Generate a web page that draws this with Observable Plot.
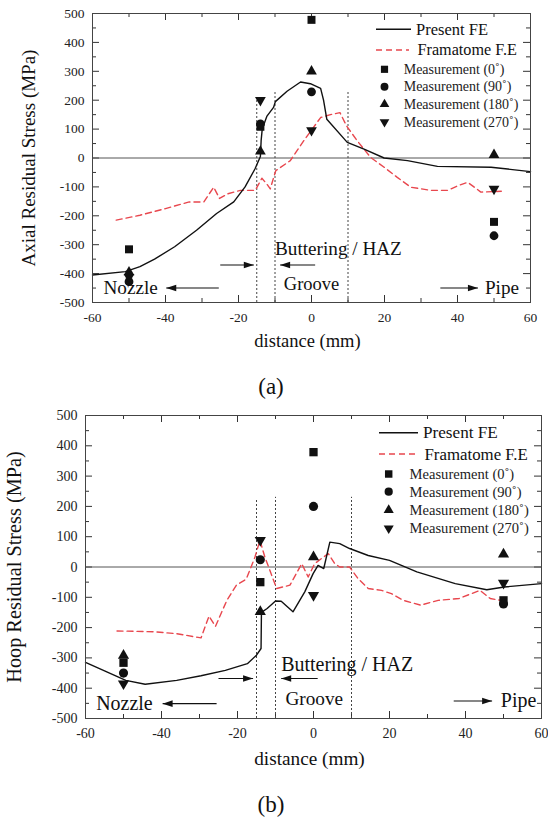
<!DOCTYPE html>
<html><head><meta charset="utf-8">
<script src="https://cdn.jsdelivr.net/npm/d3@7"></script>
<script src="https://cdn.jsdelivr.net/npm/@observablehq/plot@0.6"></script>
<style>
body{margin:0;background:#fff;width:548px;height:819px;position:relative;overflow:hidden;font-family:"Liberation Serif","Times New Roman",serif;}
.panel{position:absolute;left:0;}
.panel svg text{font-family:"Liberation Serif","Times New Roman",serif;}
.cap{position:absolute;font-size:23px;color:#111;transform:translate(-50%,-50%);white-space:nowrap;}
</style></head><body>
<div id="a" class="panel" style="top:0px"></div>
<div class="cap" style="left:271px;top:387px">(a)</div>
<div id="b" class="panel" style="top:400px"></div>
<div class="cap" style="left:271px;top:805px">(b)</div>
<script>
// ---- shared tick labels / categories ----
const xTicks = [-60, -40, -20, 0, 20, 40, 60];
const xMinorTicks = [-50, -30, -10, 10, 30, 50];
const yTicks = [-500, -400, -300, -200, -100, 0, 100, 200, 300, 400, 500];
const yMinorTicks = [-450, -350, -250, -150, -50, 50, 150, 250, 350, 450];
const seriesNames = ["Present FE", "Framatome F.E", "Measurement (0˚)", "Measurement (90˚)", "Measurement (180˚)", "Measurement (270˚)"];
const measX = [-50, -14, 0, 50];
const zoneX = [-15, -10, 10];

// ---- panel (a): axial ----
const aPresentX = [-60, -51, -47, -43, -37.5, -31.5, -26, -21.3, -18.2, -15.5, -14, -13.8, -13.5, -12.2, -10.4, -9.9, -6.7, -3, -0.3, 2.5, 3.3, 4.2, 9.8, 14.4, 19.9, 26.3, 34.5, 49.2, 60];
const aPresentY = [-405, -393, -376, -350, -307, -250, -192, -152, -100, -38, 5, 60, 100, 145, 175, 195, 231, 263, 257, 241, 200, 134, 54, 31, 0, -9, -29, -32, -47];
const aFramX = [-53.5, -47, -40, -33.5, -29.5, -26.8, -25.2, -23, -19.5, -15.4, -13.6, -12.3, -11.3, -9.8, -5.8, -2.1, 2.5, 5.2, 7.8, 9.6, 12.5, 16.2, 19.9, 23.5, 27.2, 32.7, 37.3, 40.3, 42.8, 46.4, 52];
const aFramY = [-215, -198, -175, -152, -152, -101, -140, -124, -112, -112, -70, -89, -107, -44, -9, 60, 140, 150, 157, 111, 60, 2, -32, -67, -101, -112, -112, -95, -84, -118, -115];
const aMeas0 = [-316, 108, 478, -221];
const aMeas90 = [-428, 118, 229, -269];
const aMeas180 = [-395, 23, 300, 11];
const aMeas270 = [-412, 200, 96, -107];
const aZoneTop = [200, 230, 230];
const aLabels = ["Buttering / HAZ", "Groove", "Nozzle", "Pipe"];
const aLabelX = [-10, 0, -57, 47.5];
const aLabelY = [-315, -436, -450, -450];
const aArrowX1 = [-25, 1, -25.4, 35.3];
const aArrowX2 = [-15.8, -8.6, -39.8, 45.6];
const aArrowY = [-370, -370, -450, -450];

// ---- panel (b): hoop ----
const bPresentX = [-60, -54.4, -49.4, -44.3, -36, -29.6, -23.2, -17.4, -15, -13.8, -13.7, -12.2, -10, -8.5, -5.4, -2.3, -0.1, 1.2, 2.7, 4.3, 6.9, 9.5, 14.4, 20, 27.2, 37.3, 45.6, 50.2, 60];
const bPresentY = [-315, -346, -374, -387, -374, -359, -341, -319, -291, -269, -150, -137, -112, -113, -148, -82, -22, 5, -5, 82, 77, 61, 38, 22, -16, -55, -75, -66, -55];
const bFramX = [-51.7, -41.6, -36, -29.6, -27.5, -25.8, -22.8, -20.3, -17.7, -15.4, -14.1, -12.8, -9.7, -6.2, -3.1, -1.4, 0.3, 2.1, 3.9, 5.6, 6.9, 9.5, 11.7, 14.4, 17.9, 20.5, 23.6, 28.2, 32.8, 38.3, 43.8, 46.5, 50.2];
const bFramY = [-211, -214, -220, -234, -162, -196, -110, -60, -40, 33, 88, 33, -71, -60, 11, -33, 11, 28, 44, 11, 0, 0, -38, -71, -77, -88, -110, -126, -110, -104, -77, -104, -112];
const bMeas0 = [-316, -50, 379, -110];
const bMeas90 = [-350, 24, 200, -122];
const bMeas180 = [-292, -148, 33, 42];
const bMeas270 = [-385, 88, -93, -53];
const bZoneTop = [220, 230, 230];
const bLabels = ["Buttering / HAZ", "Groove", "Nozzle", "Pipe"];
const bLabelX = [-8.5, 0.2, -57.2, 49.3];
const bLabelY = [-321, -434, -451, -442];
const bArrowX1 = [-25, 1.1, -25.5, 36.9];
const bArrowX2 = [-15.9, -8.5, -39.7, 47];
const bArrowY = [-368, -368, -451, -442];

// ---- symbols ----
const triDown = {draw(ctx, size) { const y = Math.sqrt(size / (Math.sqrt(3) * 3)); ctx.moveTo(0, 2 * y); ctx.lineTo(Math.sqrt(3) * y, -y); ctx.lineTo(-Math.sqrt(3) * y, -y); ctx.closePath(); }};
const headRight = {draw(ctx) { ctx.moveTo(0, 0); ctx.lineTo(-10, -3.3); ctx.lineTo(-10, 3.3); ctx.closePath(); }};
const headLeft = {draw(ctx) { ctx.moveTo(0, 0); ctx.lineTo(10, -3.3); ctx.lineTo(10, 3.3); ctx.closePath(); }};
const RED = "#e8474e", INK = "#111";
const FONT = "'Liberation Serif', 'Times New Roman', serif";
const measSyms = [
  {sym: d3.symbolSquare, r: 4.5},
  {sym: d3.symbolCircle, r: 4.4},
  {sym: d3.symbolTriangle, r: 4},
  {sym: triDown, r: 4}
];

function makePanel(el, cfg) {
  const W = 548, H = cfg.height;
  const iw = W - cfg.ml - cfg.mr, ih = H - cfg.mt - cfg.mb;
  const k = cfg.scale;
  const pts = (xs, ys) => xs.map((x, i) => ({x, y: ys[i]}));
  const present = pts(cfg.presentX, cfg.presentY);
  const fram = pts(cfg.framX, cfg.framY);
  const zones = zoneX.map((x, i) => ({x, y1: -500, y2: cfg.zoneTop[i]}));
  const labels = cfg.labels.map((t, i) => ({t, x: cfg.labelX[i], y: cfg.labelY[i], anchor: i === 1 ? "middle" : "start"}));
  const arrows = cfg.arrowX1.map((x1, i) => ({x1, x2: cfg.arrowX2[i], y: cfg.arrowY[i]}));
  const measMarks = cfg.meas.map((vals, j) => Plot.dot(pts(measX, vals), {x: "x", y: "y", symbol: measSyms[j].sym, r: measSyms[j].r * k, fill: INK, stroke: "none"}));
  const svg = Plot.plot({
    width: W, height: H,
    marginTop: cfg.mt, marginBottom: cfg.mb, marginLeft: cfg.ml, marginRight: cfg.mr,
    x: {domain: [-60, 60]},
    y: {domain: [-500, 500]},
    style: `font-family: ${FONT}; background: transparent; color: #222; overflow: visible;`,
    marks: [
      // inward ticks on all four sides
      Plot.ruleX(xTicks, {insetTop: ih - 7, stroke: "#333"}),
      Plot.ruleX(xMinorTicks, {insetTop: ih - 4, stroke: "#333"}),
      Plot.ruleX(xTicks, {insetBottom: ih - 7, stroke: "#333"}),
      Plot.ruleX(xMinorTicks, {insetBottom: ih - 4, stroke: "#333"}),
      Plot.ruleY(yTicks, {insetRight: iw - 7, stroke: "#333"}),
      Plot.ruleY(yMinorTicks, {insetRight: iw - 4, stroke: "#333"}),
      Plot.ruleY(yTicks, {insetLeft: iw - 7, stroke: "#333"}),
      Plot.ruleY(yMinorTicks, {insetLeft: iw - 4, stroke: "#333"}),
      Plot.ruleY([0], {stroke: "#555", strokeWidth: 1}),
      Plot.ruleX(zones, {x: "x", y1: "y1", y2: "y2", stroke: "#444", strokeWidth: 1, strokeDasharray: "2,2"}),
      Plot.line(fram, {x: "x", y: "y", stroke: RED, strokeWidth: 1.4, strokeDasharray: "6,4"}),
      Plot.line(present, {x: "x", y: "y", stroke: INK, strokeWidth: 1.4}),
      ...measMarks,
      Plot.link(arrows, {x1: "x1", x2: "x2", y1: "y", y2: "y", stroke: INK, strokeWidth: 1.1}),
      Plot.dot(arrows.filter(a => a.x2 > a.x1), {x: "x2", y: "y", symbol: headRight, fill: INK, stroke: "none"}),
      Plot.dot(arrows.filter(a => a.x2 < a.x1), {x: "x2", y: "y", symbol: headLeft, fill: INK, stroke: "none"}),
      Plot.text(labels.filter(d => d.anchor === "start"), {x: "x", y: "y", text: "t", textAnchor: "start", fontSize: 19.2 * k, fontFamily: FONT, fill: "#111", lineAnchor: "middle"}),
      Plot.text(labels.filter(d => d.anchor === "middle"), {x: "x", y: "y", text: "t", textAnchor: "middle", fontSize: 18.5 * k, fontFamily: FONT, fill: "#111", lineAnchor: "middle"}),
      Plot.axisX({ticks: xTicks, tickSize: 0, tickPadding: 10, tickFormat: d => String(d), fontSize: 13.5 * k, fontFamily: FONT, label: null}),
      Plot.axisY({ticks: yTicks, tickSize: 0, tickPadding: 8, tickFormat: d => String(d), fontSize: 13.5 * k, fontFamily: FONT, label: null}),
      Plot.frame({stroke: "#444"}),
      Plot.text([cfg.yTitle], {frameAnchor: "left", textAnchor: "middle", dx: cfg.yTitleDx, rotate: -90, fontSize: cfg.yTitleSize, fontFamily: FONT, fill: "#111", lineAnchor: "middle"}),
      Plot.text(["distance (mm)"], {frameAnchor: "bottom", textAnchor: "middle", dy: cfg.xTitleDy, dx: -4, fontSize: 18.5 * k, fontFamily: FONT, fill: "#111", lineAnchor: "middle"})
    ]
  });
  // legend
  const L = cfg.legend;
  const g = d3.select(svg).append("g").attr("font-family", FONT).attr("text-anchor", "start").attr("fill", "#111");
  g.append("line").attr("x1", L.lx1).attr("x2", L.lx2).attr("y1", L.rowY[0]).attr("y2", L.rowY[0]).attr("stroke", INK).attr("stroke-width", 1.4);
  g.append("text").attr("x", L.tx).attr("y", L.rowY[0]).attr("dy", "0.33em").attr("font-size", 16.5 * k).text(seriesNames[0]);
  g.append("line").attr("x1", L.lx1).attr("x2", L.lx2 - 2).attr("y1", L.rowY[1]).attr("y2", L.rowY[1]).attr("stroke", RED).attr("stroke-width", 1.4).attr("stroke-dasharray", "6,4");
  g.append("text").attr("x", L.tx + 1.5).attr("y", L.rowY[1]).attr("dy", "0.33em").attr("font-size", 16.2 * k).text(seriesNames[1]);
  measSyms.forEach((m, j) => {
    const y = L.rowY[j + 2];
    g.append("path").attr("d", d3.symbol(m.sym, Math.PI * (m.r * 0.9 * k) ** 2)()).attr("transform", `translate(${L.mx},${y})`).attr("fill", INK);
    g.append("text").attr("x", L.mtx).attr("y", y).attr("dy", "0.33em").attr("font-size", 14 * k).attr("fill", "#222").text(seriesNames[j + 2]);
  });
  document.getElementById(el).appendChild(svg);
}

makePanel("a", {
  height: 370, mt: 13, mb: 68, ml: 92, mr: 18, scale: 1,
  presentX: aPresentX, presentY: aPresentY, framX: aFramX, framY: aFramY,
  meas: [aMeas0, aMeas90, aMeas180, aMeas270], zoneTop: aZoneTop,
  labels: aLabels, labelX: aLabelX, labelY: aLabelY,
  arrowX1: aArrowX1, arrowX2: aArrowX2, arrowY: aArrowY,
  yTitle: "Axial Residual Stress (MPa)", yTitleDx: -64, yTitleSize: 19,
  xTitleDy: 39,
  legend: {lx1: 376, lx2: 411, tx: 416, mx: 384.5, mtx: 403.7, rowY: [29.3, 50, 69.3, 86.7, 104.3, 122]}
});
makePanel("b", {
  height: 380, mt: 15, mb: 62, ml: 85, mr: 7, scale: 1.04,
  presentX: bPresentX, presentY: bPresentY, framX: bFramX, framY: bFramY,
  meas: [bMeas0, bMeas90, bMeas180, bMeas270], zoneTop: bZoneTop,
  labels: bLabels, labelX: bLabelX, labelY: bLabelY,
  arrowX1: bArrowX1, arrowX2: bArrowX2, arrowY: bArrowY,
  yTitle: "Hoop Residual Stress (MPa)", yTitleDx: -71, yTitleSize: 20.3,
  xTitleDy: 40,
  legend: {lx1: 379, lx2: 418, tx: 423, mx: 388.7, mtx: 409.6, rowY: [32.7, 54, 74, 91.7, 110, 128.3]}
});
</script>
</body></html>
